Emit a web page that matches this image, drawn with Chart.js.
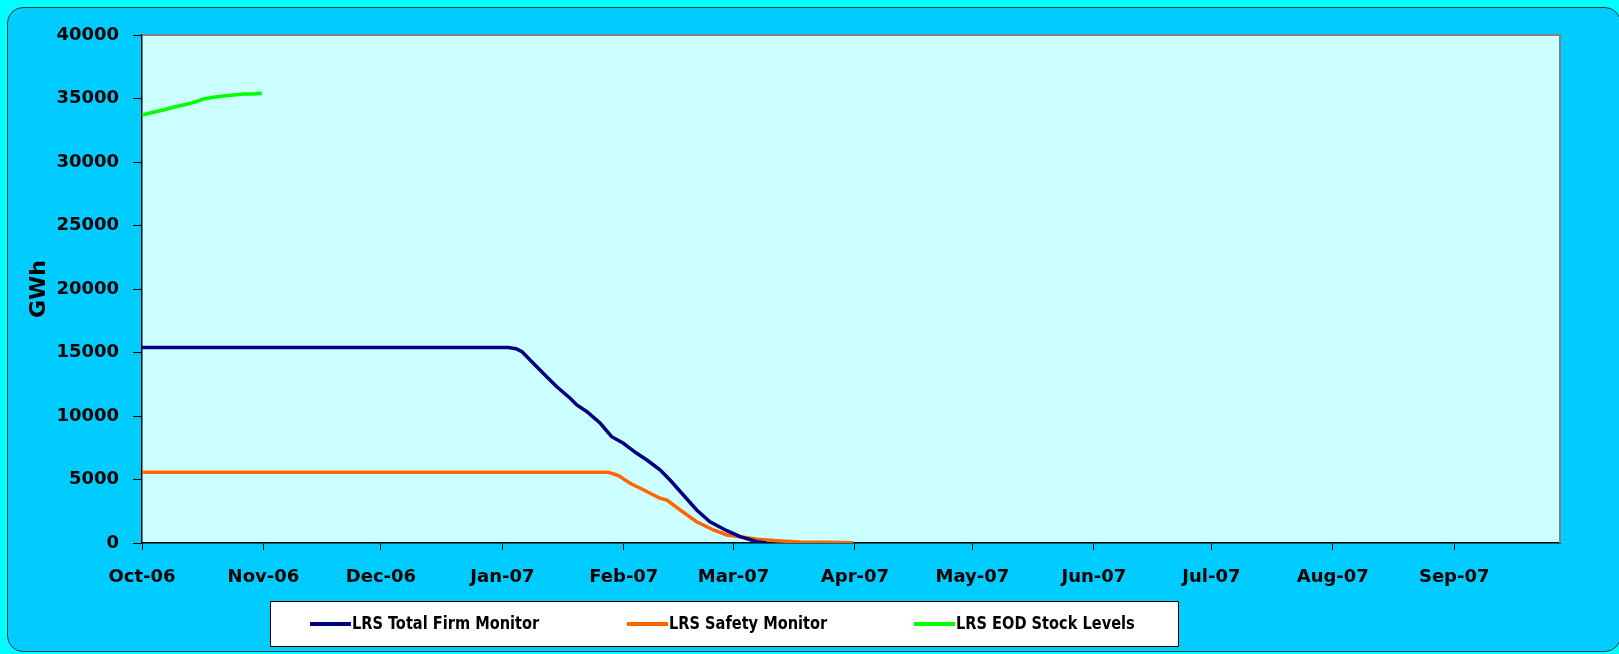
<!DOCTYPE html>
<html>
<head>
<meta charset="utf-8">
<script src="https://cdn.jsdelivr.net/npm/chart.js@4.4.1/dist/chart.umd.min.js"></script>
<style>
  html, body { margin: 0; padding: 0; width: 1619px; height: 654px; overflow: hidden; background: #00FFFF; }
  #frame { position: absolute; left: 7px; top: 7px; width: 1614px; height: 645px; box-sizing: border-box;
           border: 1px solid #1d3c46; border-radius: 16px; background: #00CCFF; }
  #wrap { position: absolute; left: 0; top: 0; width: 1619px; height: 654px; }
</style>
</head>
<body>
<div id="frame"></div>
<div id="wrap"><canvas id="chartLRS"></canvas></div>
<script>
// x values are days counted from 1 Oct 2006
const monthTicks = [0, 31, 61, 92, 123, 151, 182, 212, 243, 273, 304, 335];
const monthLabels = ['Oct-06', 'Nov-06', 'Dec-06', 'Jan-07', 'Feb-07', 'Mar-07', 'Apr-07', 'May-07', 'Jun-07', 'Jul-07', 'Aug-07', 'Sep-07'];

const firmDays = [0, 93.5, 95.5, 97, 97.4, 99.9, 101.6, 103.3, 105.9, 109.3, 111, 113.6, 117, 119.9, 122.9, 124.6, 126.3, 128.9, 130.6, 132.3, 134.8, 138.2, 141.6, 145, 149.3, 152.7, 157, 159.5];
const firmVals = [15400, 15400, 15300, 15063, 14937, 14150, 13622, 13095, 12307, 11394, 10866, 10339, 9425, 8370, 7850, 7457, 7063, 6535, 6142, 5748, 4961, 3780, 2598, 1677, 968, 496, 102, 0];

const safetyDays = [0, 119, 121.2, 122.1, 124.6, 127.2, 130.6, 132.3, 134, 137.4, 141.6, 145.9, 149.3, 152.7, 157, 163, 168, 174.8, 181.6];
const safetyVals = [5570, 5570, 5354, 5220, 4700, 4307, 3780, 3520, 3386, 2598, 1677, 1024, 630, 496, 291, 157, 79, 55, 20];

const stockDays = [0, 2.9, 5.5, 8, 10.6, 13.1, 15.7, 18.2, 20.8, 23.3, 25.9, 28.4, 30.6];
const stockVals = [33700, 33913, 34095, 34307, 34488, 34670, 34960, 35094, 35197, 35276, 35354, 35354, 35410];

function pts(days, vals) {
  return days.map((d, i) => ({ x: d, y: vals[i] }));
}

const tickFont = { family: '"DejaVu Sans", sans-serif', size: 18, weight: 'bold' };

const plotBack = {
  id: 'plotBack',
  beforeDraw(chart) {
    const a = chart.chartArea;
    const ctx = chart.ctx;
    ctx.save();
    ctx.fillStyle = '#CCFFFF';
    ctx.fillRect(a.left, a.top, a.right - a.left, a.bottom - a.top);
    ctx.restore();
  },
  beforeDatasetsDraw(chart) {
    const a = chart.chartArea;
    const ctx = chart.ctx;
    ctx.save();
    ctx.strokeStyle = '#808080';
    ctx.lineWidth = 2;
    ctx.beginPath();
    ctx.moveTo(a.left, a.top);
    ctx.lineTo(a.right, a.top);
    ctx.lineTo(a.right, a.bottom);
    ctx.stroke();
    ctx.restore();
  }
};

// legend box drawn by hand so the item spacing matches the original
const legendBox = {
  id: 'legendBox',
  afterDraw(chart) {
    const ctx = chart.ctx;
    const starts = [310, 627, 914];
    const y = 624;
    ctx.save();
    ctx.fillStyle = '#FFFFFF';
    ctx.fillRect(270.5, 601.5, 908, 45);
    ctx.strokeStyle = '#000000';
    ctx.lineWidth = 1;
    ctx.strokeRect(270.5, 601.5, 908, 45);
    ctx.font = 'bold 18px "Liberation Sans Narrow", "DejaVu Sans Condensed", sans-serif';
    ctx.textBaseline = 'middle';
    chart.data.datasets.forEach((ds, i) => {
      ctx.strokeStyle = ds.borderColor;
      ctx.lineWidth = 4;
      ctx.beginPath();
      ctx.moveTo(starts[i], y);
      ctx.lineTo(starts[i] + 41, y);
      ctx.stroke();
      ctx.fillStyle = '#000000';
      // squeeze the text a little, the original uses a narrow face
      ctx.save();
      ctx.translate(starts[i] + 42, y);
      ctx.scale(0.9, 1);
      ctx.fillText(ds.label, 0, 0);
      ctx.restore();
    });
    ctx.restore();
  }
};

const ctx = document.getElementById('chartLRS').getContext('2d');

const myChart = new Chart(ctx, {
  type: 'line',
  data: {
    datasets: [
      {
        label: 'LRS Total Firm Monitor',
        data: pts(firmDays, firmVals),
        borderColor: '#000080',
        borderWidth: 3.5,
        pointRadius: 0,
        fill: false,
        tension: 0
      },
      {
        label: 'LRS Safety Monitor',
        data: pts(safetyDays, safetyVals),
        borderColor: '#FF6600',
        borderWidth: 3.5,
        pointRadius: 0,
        fill: false,
        tension: 0
      },
      {
        label: 'LRS EOD Stock Levels',
        data: pts(stockDays, stockVals),
        borderColor: '#00FF00',
        borderWidth: 3.5,
        pointRadius: 0,
        fill: false,
        tension: 0
      }
    ]
  },
  options: {
    responsive: true,
    maintainAspectRatio: false,
    animation: false,
    layout: {
      padding: { top: 35, right: 59, bottom: 0, left: 0 }
    },
    plugins: {
      legend: { display: false },
      tooltip: { enabled: false }
    },
    scales: {
      x: {
        type: 'linear',
        min: 0,
        max: 362,
        afterBuildTicks: (scale) => {
          scale.ticks = monthTicks.map(v => ({ value: v }));
        },
        afterFit: (scale) => { scale.height = 111; },
        ticks: {
          autoSkip: false,
          maxRotation: 0,
          color: '#000000',
          font: tickFont,
          padding: 17,
          callback: (v) => monthLabels[monthTicks.indexOf(v)]
        },
        grid: {
          drawOnChartArea: false,
          drawTicks: true,
          tickLength: 7,
          color: '#000000'
        },
        border: { display: true, color: '#000000', width: 1.5 }
      },
      y: {
        min: 0,
        max: 40000,
        afterFit: (scale) => { scale.width = 142; },
        ticks: {
          stepSize: 5000,
          color: '#000000',
          font: tickFont,
          padding: 14,
          callback: (v) => String(v)
        },
        grid: {
          drawOnChartArea: false,
          drawTicks: true,
          tickLength: 9,
          color: '#000000'
        },
        border: { display: true, color: '#000000', width: 1.5 },
        title: {
          display: true,
          text: 'GWh',
          color: '#000000',
          font: { family: '"DejaVu Sans", sans-serif', size: 22, weight: 'bold' },
          padding: { top: 26, bottom: 0 }
        }
      }
    }
  },
  plugins: [plotBack, legendBox]
});
</script>
</body>
</html>
